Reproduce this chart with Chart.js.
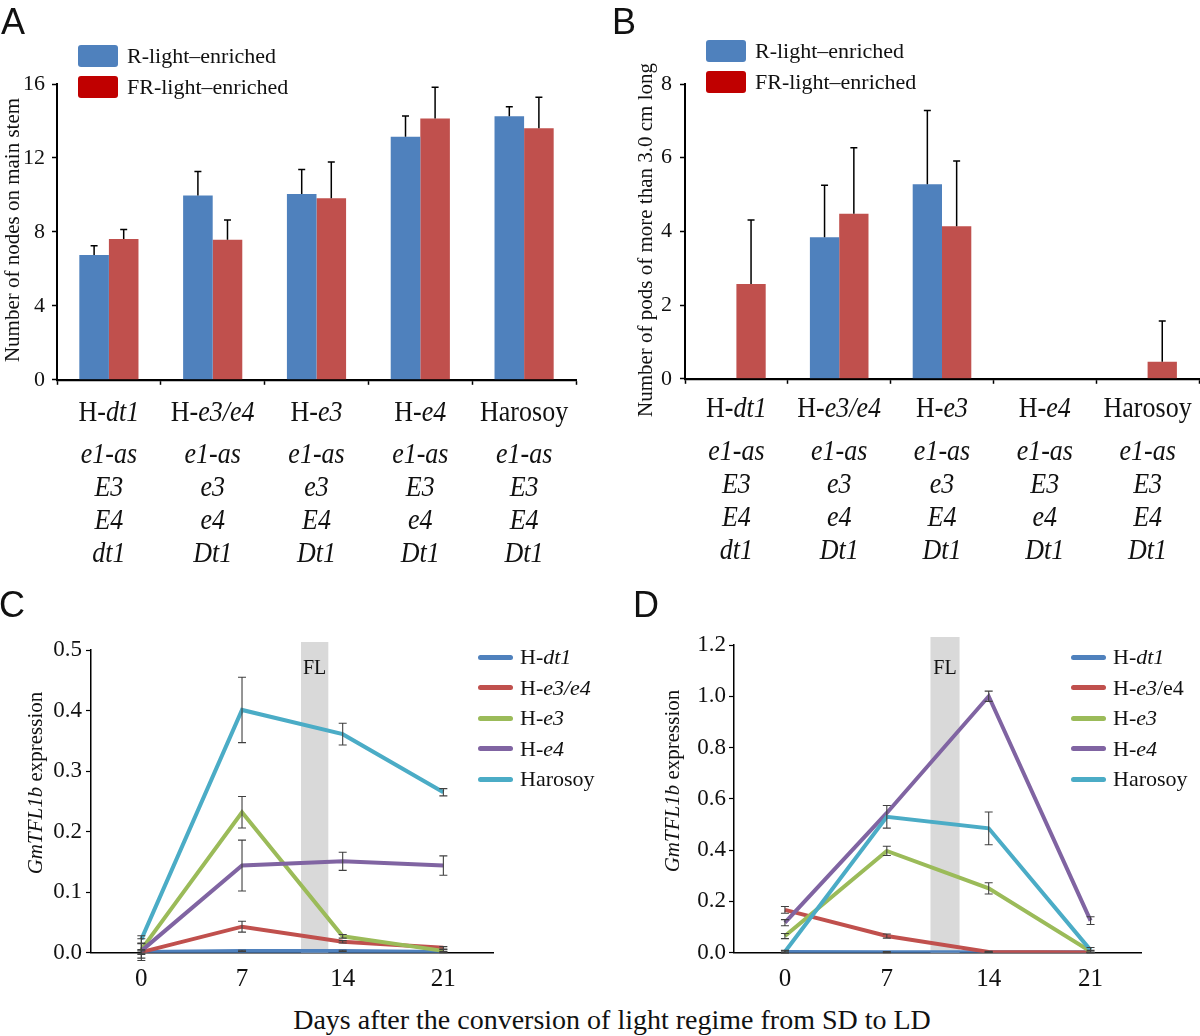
<!DOCTYPE html>
<html>
<head>
<meta charset="utf-8">
<script src="https://cdn.jsdelivr.net/npm/chart.js@4.4.0/dist/chart.umd.min.js"></script>
<style>
body { margin: 0; background: #fff; }
#fig { position: relative; width: 1200px; height: 1036px; overflow: hidden; font-family: "Liberation Serif", "Times New Roman", serif; color: #111; }
canvas { position: absolute; }
.t { position: absolute; white-space: nowrap; line-height: 1; transform: translate(-50%, -50%); }
.tall { position: absolute; white-space: nowrap; line-height: 1; transform: translate(-50%, -50%) scaleY(1.13); }
.l { position: absolute; white-space: nowrap; line-height: 1; transform: translate(0, -50%); }
.rot { position: absolute; white-space: nowrap; line-height: 1; transform: translate(-50%, -50%) rotate(-90deg); }
.letter { position: absolute; font-family: "Liberation Sans", Arial, sans-serif; font-size: 36px; line-height: 1; }
.sw { position: absolute; }
</style>
</head>
<body>
<div id="fig">
  <canvas id="cA" width="600" height="400" style="left:0;top:0"></canvas>
  <canvas id="cB" width="600" height="400" style="left:600px;top:0"></canvas>
  <canvas id="cC" width="600" height="420" style="left:0;top:580px"></canvas>
  <canvas id="cD" width="600" height="420" style="left:600px;top:580px"></canvas>
</div>
<script>
// --- data ---
const genotypes = ['H-dt1', 'H-e3/e4', 'H-e3', 'H-e4', 'Harosoy'];
const alleleE1 = ['e1-as', 'e1-as', 'e1-as', 'e1-as', 'e1-as'];
const alleleE3 = ['E3', 'e3', 'e3', 'E3', 'E3'];
const alleleE4 = ['E4', 'e4', 'E4', 'e4', 'E4'];
const alleleDt1 = ['dt1', 'Dt1', 'Dt1', 'Dt1', 'Dt1'];
const lightLabels = ['R-light\u2013enriched', 'FR-light\u2013enriched'];

// A: nodes on main stem
const nodesR = [6.75, 9.97, 10.05, 13.15, 14.26];
const nodesRErr = [0.5, 1.3, 1.32, 1.12, 0.51];
const nodesFR = [7.62, 7.58, 9.82, 14.13, 13.6];
const nodesFRErr = [0.51, 1.07, 1.96, 1.69, 1.69];

// B: pods longer than 3.0 cm
const podsR = [0, 3.84, 5.28, 0, 0];
const podsRErr = [0, 1.41, 2.0, 0, 0];
const podsFR = [2.57, 4.48, 4.14, 0, 0.46];
const podsFRErr = [1.74, 1.79, 1.77, 0, 1.11];

// C / D: GmTFL1b expression
const days = [0, 7, 14, 21];
const cValues = [
  [0.001, 0.003, 0.003, 0.001],
  [0.001, 0.043, 0.018, 0.008],
  [0.005, 0.232, 0.027, 0.003],
  [0.003, 0.144, 0.151, 0.144],
  [0.022, 0.401, 0.361, 0.265]
];
const cErrors = [
  [0.002, 0.001, 0.001, 0.001],
  [0.004, 0.009, 0.002, 0.002],
  [0.018, 0.026, 0.003, 0.002],
  [0.012, 0.042, 0.015, 0.016],
  [0.006, 0.054, 0.018, 0.006]
];
const dValues = [
  [0.003, 0.002, 0.002, 0.002],
  [0.167, 0.065, 0.003, 0.001],
  [0.065, 0.397, 0.251, 0.005],
  [0.117, 0.545, 1.0, 0.125],
  [0.004, 0.53, 0.485, 0.01]
];
const dErrors = [
  [0.003, 0.002, 0.001, 0.001],
  [0.013, 0.008, 0.002, 0.001],
  [0.01, 0.018, 0.022, 0.004],
  [0.012, 0, 0.02, 0.015],
  [0.005, 0.044, 0.064, 0.01]
];
const flC = [11.1, 13.0];
const flD = [10.0, 12.0];

// --- styles ---
const blue = '#4F81BD', red = '#C0504D', redSwatch = '#C00000';
const lineColors = ['#4F81BD', '#C0504D', '#9BBB59', '#8064A2', '#4BACC6'];
const serif = '"Liberation Serif", "Times New Roman", serif';

const fig = document.getElementById('fig');

const put = (html, x, y, size, cls) => {
    const d = document.createElement('div');
    d.className = cls || 't';
    d.innerHTML = html;
    d.style.left = x + 'px';
    d.style.top = y + 'px';
    d.style.fontSize = size + 'px';
    fig.appendChild(d);
    return d;
};

const swatch = (x, y, w, h, color, radius) => {
    const d = document.createElement('div');
    d.className = 'sw';
    d.style.cssText = 'left:' + x + 'px;top:' + y + 'px;width:' + w + 'px;height:' + h + 'px;background:' + color + ';border-radius:' + radius + 'px';
    fig.appendChild(d);
};

const fmtName = s => s.startsWith('H-') ? 'H-<i>' + s.slice(2) + '</i>' : s;

// --- plugins ---
const errorBars = {
    id: 'errorBars',
    afterDatasetsDraw(chart, args, o) {
        const ctx = chart.ctx, ys = chart.scales.y;
        chart.data.datasets.forEach((ds, di) => {
            if (!ds.errors) return;
            const meta = chart.getDatasetMeta(di);
            meta.data.forEach((el, i) => {
                const e = ds.errors[i];
                if (!e) return;
                const raw = ds.data[i];
                const v = typeof raw === 'object' ? raw.y : raw;
                const yTop = ys.getPixelForValue(v + e);
                const yBot = o.both ? ys.getPixelForValue(v - e) : el.y;
                ctx.save();
                ctx.strokeStyle = o.color;
                ctx.lineWidth = o.width;
                ctx.beginPath();
                ctx.moveTo(el.x, yBot);
                ctx.lineTo(el.x, yTop);
                ctx.moveTo(el.x - o.cap, yTop);
                ctx.lineTo(el.x + o.cap, yTop);
                if (o.both) {
                    ctx.moveTo(el.x - o.cap, yBot);
                    ctx.lineTo(el.x + o.cap, yBot);
                }
                ctx.stroke();
                ctx.restore();
            });
        });
    }
};

const flBand = {
    id: 'flBand',
    beforeDatasetsDraw(chart, args, o) {
        if (!o.range) return;
        const {ctx, chartArea} = chart;
        const xs = chart.scales.x;
        const x0 = xs.getPixelForValue(o.range[0]), x1 = xs.getPixelForValue(o.range[1]);
        ctx.save();
        ctx.fillStyle = '#D9D9D9';
        ctx.fillRect(x0, chartArea.top - o.over, x1 - x0, chartArea.bottom - chartArea.top + o.over);
        ctx.restore();
    }
};

// --- bar panels (A, B) ---
const barChart = (id, r, rErr, fr, frErr, yMax, yStep, yWidth, padRight, labelPad) => {
    return new Chart(document.getElementById(id), {
        type: 'bar',
        data: {
            labels: genotypes,
            datasets: [
                { label: lightLabels[0], data: r, errors: rErr, backgroundColor: blue, categoryPercentage: 0.57, barPercentage: 1 },
                { label: lightLabels[1], data: fr, errors: frErr, backgroundColor: red, categoryPercentage: 0.57, barPercentage: 1 }
            ]
        },
        options: {
            responsive: false,
            animation: false,
            events: [],
            layout: { padding: { top: 84, right: padRight, left: 0, bottom: 0 } },
            plugins: {
                legend: { display: false },
                tooltip: { enabled: false },
                errorBars: { both: false, cap: 3.5, color: '#000', width: 1.5 }
            },
            scales: {
                x: {
                    offset: true,
                    z: 1,
                    grid: { offset: true, drawOnChartArea: false, color: '#000', tickLength: 5, tickWidth: 1.5 },
                    border: { color: '#000', width: 2.2 },
                    ticks: { display: false },
                    afterFit: s => { s.height = 16; }
                },
                y: {
                    min: 0, max: yMax,
                    grid: { drawOnChartArea: false, color: '#000', tickLength: 5, tickWidth: 1.5 },
                    border: { color: '#000', width: 2 },
                    ticks: { stepSize: yStep, padding: labelPad, color: '#111', font: { family: serif, size: 22 } },
                    afterFit: s => { s.width = yWidth; }
                }
            }
        },
        plugins: [errorBars]
    });
};

const chartA = barChart('cA', nodesR, nodesRErr, nodesFR, nodesFRErr, 16, 4, 57, 24, 7);
const chartB = barChart('cB', podsR, podsRErr, podsFR, podsFRErr, 8, 2, 85, 1, 8);

// category labels and allele rows under A and B
const rows = [alleleE1, alleleE3, alleleE4, alleleDt1];
[[chartA, 0, 412, 454], [chartB, 600, 408, 451]].forEach(([ch, left, labelY, rowY]) => {
    const xs = ch.scales.x;
    genotypes.forEach((g, i) => {
        const px = left + xs.getPixelForValue(i);
        put(fmtName(g), px, labelY, 26, 'tall');
        rows.forEach((row, k) => {
            put('<i>' + row[i] + '</i>', px, rowY + k * 33, 26, 'tall');
        });
    });
});

// legends A, B
[[78, 45, 127], [706, 40, 755]].forEach(([x, y, tx]) => {
    swatch(x, y, 40, 22, blue, 3);
    swatch(x, y + 31, 40, 22, redSwatch, 3);
    put(lightLabels[0], tx, y + 11, 22, 'l');
    put(lightLabels[1], tx, y + 42, 22, 'l');
});

put('Number of nodes on main stem', 12, 230, 21, 'rot');
put('Number of pods of more than 3.0 cm long', 645, 240, 21, 'rot');

// --- line panels (C, D) ---
const lineChart = (id, values, errors, band, yMax, yStep, yWidth, padTop, padRight, labelPad) => {
    return new Chart(document.getElementById(id), {
        type: 'line',
        data: {
            datasets: genotypes.map((g, k) => ({
                label: g,
                data: days.map((d, i) => ({ x: d, y: values[k][i] })),
                errors: errors[k],
                borderColor: lineColors[k],
                borderWidth: 4,
                pointRadius: 0,
                tension: 0,
                order: genotypes.length - k
            }))
        },
        options: {
            responsive: false,
            animation: false,
            events: [],
            layout: { padding: { top: padTop, right: padRight, left: 0, bottom: 0 } },
            plugins: {
                legend: { display: false },
                tooltip: { enabled: false },
                errorBars: { both: true, cap: 4, color: '#404040', width: 1.1 },
                flBand: { range: band, over: 8 }
            },
            scales: {
                x: {
                    type: 'linear',
                    min: -3.5, max: 24.5,
                    z: 1,
                    afterBuildTicks: s => { s.ticks = days.map(v => ({ value: v })); },
                    grid: { drawOnChartArea: false, drawTicks: false },
                    border: { color: '#000', width: 1.5 },
                    ticks: { padding: 12, color: '#111', font: { family: serif, size: 25 }, callback: v => v },
                    afterFit: s => { s.height = 47.3; }
                },
                y: {
                    min: 0, max: yMax,
                    grid: { drawOnChartArea: false, color: '#000', tickLength: 5, tickWidth: 1.2 },
                    border: { color: '#000', width: 1.5 },
                    ticks: { stepSize: yStep, padding: labelPad, color: '#111', font: { family: serif, size: 23 }, callback: v => v.toFixed(1) },
                    afterFit: s => { s.width = yWidth; }
                }
            }
        },
        plugins: [flBand, errorBars]
    });
};

const chartC = lineChart('cC', cValues, cErrors, flC, 0.5, 0.1, 91, 70, 106.3, 4);
const chartD = lineChart('cD', dValues, dErrors, flD, 1.2, 0.2, 134, 65, 58.5, 3);

// FL labels
[[chartC, 0, flC], [chartD, 600, flD]].forEach(([ch, left, band]) => {
    const xs = ch.scales.x;
    const mid = (xs.getPixelForValue(band[0]) + xs.getPixelForValue(band[1])) / 2;
    put('FL', left + mid, 667, 20);
});

// legends C, D
[[478, 520, false], [1071, 1113, true]].forEach(([sx, tx, uprightE4]) => {
    genotypes.forEach((g, k) => {
        const cy = 657 + k * 30.5;
        swatch(sx, cy - 2.5, 35, 5, lineColors[k], 2.5);
        let html = fmtName(g);
        if (uprightE4) html = html.replace('<i>e3/e4</i>', '<i>e3</i>/e4');
        put(html, tx, cy, 22, 'l');
    });
});

put('<i>GmTFL1b</i> expression', 35, 783, 21, 'rot');
put('<i>GmTFL1b</i> expression', 672, 781, 21, 'rot');
put('Days after the conversion of light regime from SD to LD', 612, 1020, 28);

// panel letters
[['A', 1, 4], ['B', 612, 4], ['C', -1, 587], ['D', 633, 587]].forEach(([t, x, y]) => {
    const d = document.createElement('div');
    d.className = 'letter';
    d.textContent = t;
    d.style.left = x + 'px';
    d.style.top = y + 'px';
    fig.appendChild(d);
});
</script>
</body>
</html>
